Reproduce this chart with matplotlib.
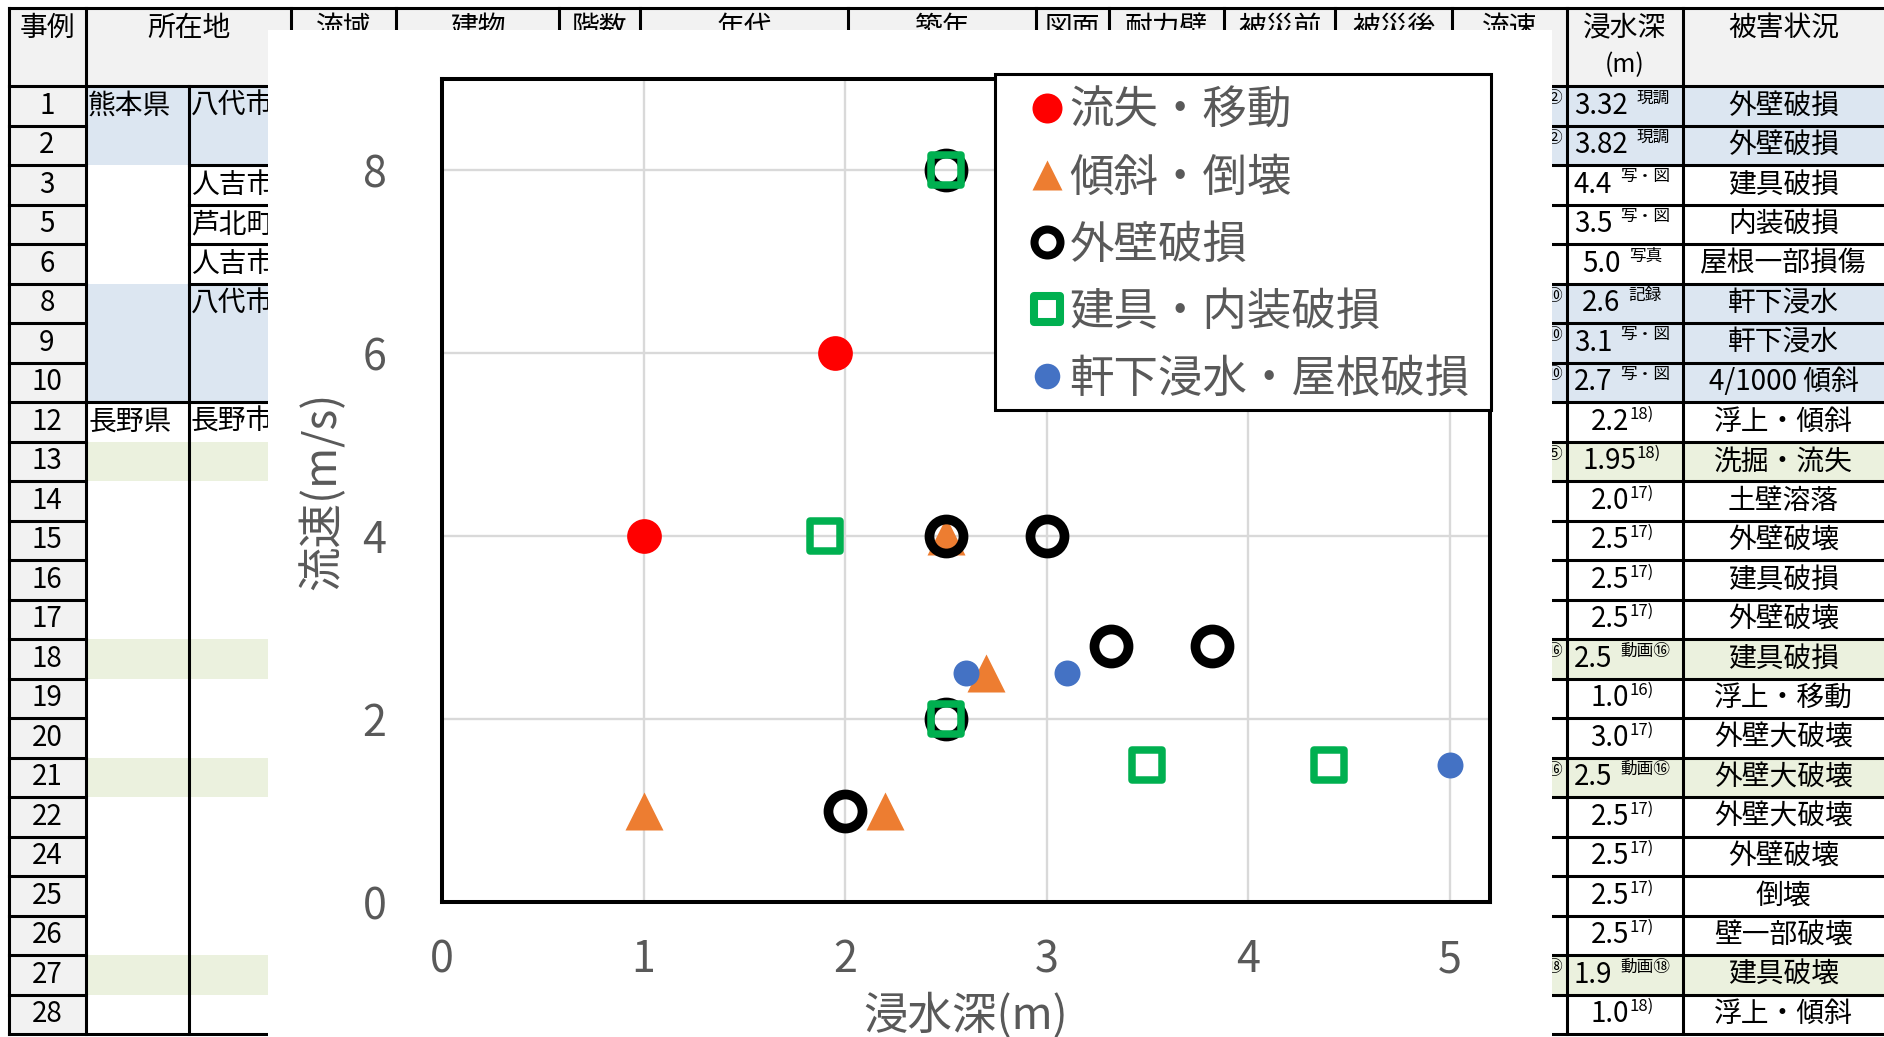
import matplotlib
matplotlib.use('Agg')
import matplotlib.pyplot as plt
from matplotlib.lines import Line2D
from matplotlib.markers import MarkerStyle
from matplotlib.patches import Rectangle

plt.rcParams['font.family'] = ['Noto Sans CJK JP', 'DejaVu Sans']

# ---- scatter: 浸水深 (m) vs 流速 (m/s), one series per damage type
loss_x = [1.0, 1.95]
loss_y = [4, 6]
tilt_x = [2.5, 2.7, 1.0, 2.2]
tilt_y = [4, 2.5, 1.0, 1.0]
wall_x = [2.5, 2.5, 3.0, 3.32, 3.82, 2.5, 2.0]
wall_y = [8, 4, 4, 2.8, 2.8, 2, 1]
fitting_x = [2.5, 1.9, 2.5, 3.5, 4.4]
fitting_y = [8, 4, 2, 1.5, 1.5]
eave_x = [2.6, 3.1, 5.0]
eave_y = [2.5, 2.5, 1.5]
series_labels = ['流失・移動', '傾斜・倒壊', '外壁破損', '建具・内装破損', '軒下浸水・屋根破損']

# ---- case table behind the chart
header = ['事例', '所在地', '流域', '建物', '階数', '年代', '築年', '図面',
          '耐力壁', '被災前', '被災後', '流速', '浸水深', '被害状況']
case_no = ['1', '2', '3', '5', '6', '8', '9', '10', '12', '13', '14', '15',
           '16', '17', '18', '19', '20', '21', '22', '24', '25', '26', '27', '28']
pref = ['熊本県', '', '', '', '', '', '', '', '長野県', '', '', '', '', '', '', '',
        '', '', '', '', '', '', '', '']
city = ['八代市', '', '人吉市', '芦北町', '人吉市', '八代市', '', '', '長野市', '', '', '',
        '', '', '', '', '', '', '', '', '', '', '', '']
speed_src = ['②', '②', '', '', '', '⑩', '⑩', '⑩', '', '⑤', '', '', '', '', '⑯', '',
             '', '⑯', '', '', '', '', '⑱', '']
depth = ['3.32', '3.82', '4.4', '3.5', '5.0', '2.6', '3.1', '2.7', '2.2', '1.95', '2.0',
         '2.5', '2.5', '2.5', '2.5', '1.0', '3.0', '2.5', '2.5', '2.5', '2.5', '2.5',
         '1.9', '1.0']
depth_src = ['現調', '現調', '写・図', '写・図', '写真', '記録', '写・図', '写・図', '18)',
             '18)', '17)', '17)', '17)', '17)', '動画⑯', '16)', '17)', '動画⑯', '17)',
             '17)', '17)', '17)', '動画⑱', '18)']
damage = ['外壁破損', '外壁破損', '建具破損', '内装破損', '屋根一部損傷', '軒下浸水', '軒下浸水',
          '4/1000 傾斜', '浮上・傾斜', '洗掘・流失', '土壁溶落', '外壁破壊', '建具破損',
          '外壁破壊', '建具破損', '浮上・移動', '外壁大破壊', '外壁大破壊', '外壁大破壊',
          '外壁破壊', '倒壊', '壁一部破壊', '建具破壊', '浮上・傾斜']
region = ['kumamoto', 'kumamoto', '', '', '', 'kumamoto', 'kumamoto', 'kumamoto', '',
          'nagano', '', '', '', '', 'nagano', '', '', 'nagano', '', '', '', '', 'nagano', '']

W, H = 1884, 1037
fig = plt.figure(figsize=(W / 100, H / 100), dpi=100)

# background sheet, drawn in pixel units
bg = fig.add_axes([0, 0, 1, 1])
bg.set_xlim(0, W)
bg.set_ylim(H, 0)
bg.axis('off')

col_edges = [9, 86, 291, 396, 559, 640, 848, 1036, 1109, 1224, 1335, 1452, 1567, 1683, 1884]
split_x = 189           # 県 | 市
top, head_bot, row_h = 8, 86, 39.5
bottom = head_bot + row_h * len(case_no)
shade = {'kumamoto': '#dce6f1', 'nagano': '#ebf1de'}
lw_tab = 2.2

bg.add_patch(Rectangle((9, top), W - 9, head_bot - top, fc='#f2f2f2', ec='none', zorder=0))
bg.add_patch(Rectangle((9, head_bot), 77, bottom - head_bot, fc='#f2f2f2', ec='none', zorder=0))
for i, reg in enumerate(region):
    if reg:
        y0 = head_bot + i * row_h
        bg.add_patch(Rectangle((86, y0), 291 - 86, row_h, fc=shade[reg], ec='none', zorder=0))
        bg.add_patch(Rectangle((1452, y0), W - 1452, row_h, fc=shade[reg], ec='none', zorder=0))

for yy in (top, head_bot, bottom):
    bg.plot([9, W], [yy, yy], color='k', lw=lw_tab, zorder=2)
for xx in col_edges[:-1]:
    bg.plot([xx, xx], [top, bottom], color='k', lw=lw_tab, zorder=2)
bg.plot([split_x, split_x], [head_bot, bottom], color='k', lw=lw_tab, zorder=2)
for i in range(1, len(case_no)):
    yy = head_bot + i * row_h
    bg.plot([9, 86], [yy, yy], color='k', lw=lw_tab, zorder=2)
    bg.plot([1452, W], [yy, yy], color='k', lw=lw_tab, zorder=2)
    if pref[i]:
        bg.plot([86, split_x], [yy, yy], color='k', lw=lw_tab, zorder=2)
    if city[i]:
        bg.plot([split_x, 291], [yy, yy], color='k', lw=lw_tab, zorder=2)

for name, x0, x1 in zip(header, col_edges[:-1], col_edges[1:]):
    bg.text((x0 + x1) / 2, 13, name, ha='center', va='top', fontsize=20, zorder=3)
bg.text(1625, 52, '(m)', ha='center', va='top', fontsize=18, zorder=3)

depth_pairs = []
for i in range(len(case_no)):
    yc = head_bot + (i + 0.5) * row_h
    yt = head_bot + i * row_h
    bg.text(47, yc, case_no[i], ha='center', va='center', fontsize=20, zorder=3)
    if pref[i]:
        bg.text(88, yc, pref[i], ha='left', va='center', fontsize=20, zorder=3)
    if city[i]:
        bg.text(191, yc, city[i], ha='left', va='center', fontsize=20, zorder=3)
    if speed_src[i]:
        bg.text(1562, yt + 4, speed_src[i], ha='right', va='top', fontsize=12, zorder=3)
    bg.text(1783.5, yc, damage[i], ha='center', va='center', fontsize=20, zorder=3)
    t = bg.text(1572, yc, depth[i], ha='left', va='center', fontsize=20, zorder=3)
    gap = 0 if depth_src[i].endswith(')') else 6
    s = bg.annotate(depth_src[i], xy=(1, 1), xycoords=t, xytext=(gap, 1),
                    textcoords='offset points', ha='left', va='top', fontsize=12, zorder=3)
    depth_pairs.append((t, s))

# chart area
bg.add_patch(Rectangle((268, 30), 1552 - 268, H - 30, fc='white', ec='none', zorder=10))

ax_l, ax_r, ax_t, ax_b = 442, 1490, 79, 902
ax = fig.add_axes([ax_l / W, 1 - ax_b / H, (ax_r - ax_l) / W, (ax_b - ax_t) / H])
ax.set_xlim(0, 5.2)
ax.set_ylim(0, 9)
ax.set_xticks(range(6))
ax.set_yticks(range(0, 9, 2))
ax.grid(color='#d9d9d9', lw=1.7)
ax.set_axisbelow(True)
for sp in ax.spines.values():
    sp.set_linewidth(2.9)
    sp.set_color('black')
ax.tick_params(length=0, labelsize=31, labelcolor='#595959')
ax.tick_params(axis='x', pad=26)
ax.tick_params(axis='y', pad=40)

sq = MarkerStyle('s', joinstyle='round')
ax.plot(loss_x, loss_y, ls='none', marker='o', ms=25, mfc='#ff0000', mec='none')
ax.plot(tilt_x, tilt_y, ls='none', marker='^', ms=27, mfc='#ed7d31', mec='none')
ax.plot(wall_x, wall_y, ls='none', marker='o', ms=24.5, mfc='none', mec='black', mew=7)
ax.plot(fitting_x, fitting_y, ls='none', marker=sq, ms=21, mfc='none', mec='#00b050', mew=5.4)
ax.plot(eave_x, eave_y, ls='none', marker='o', ms=18.7, mfc='#4472c4', mec='none')

ax.set_xlabel('浸水深(m)', fontsize=32, color='#595959')
ax.xaxis.set_label_coords(0.5, -(993 - ax_b) / (ax_b - ax_t))
ax.set_ylabel('流速(m/s)', fontsize=32, color='#595959')
ax.yaxis.set_label_coords(-(ax_l - 346) / (ax_r - ax_l), 0.5)

handles = [
    Line2D([], [], ls='none', marker='o', ms=21.6, mfc='#ff0000', mec='none'),
    Line2D([], [], ls='none', marker='^', ms=21.6, mfc='#ed7d31', mec='none'),
    Line2D([], [], ls='none', marker='o', ms=18.7, mfc='none', mec='black', mew=5.8),
    Line2D([], [], ls='none', marker=sq, ms=18.7, mfc='none', mec='#00b050', mew=5.8),
    Line2D([], [], ls='none', marker='o', ms=18.4, mfc='#4472c4', mec='none'),
]
ax.legend(handles, series_labels, loc='upper left', bbox_to_anchor=(1025 / W, 1 - 88 / H),
          bbox_transform=fig.transFigure, frameon=False, fontsize=32, labelcolor='#595959',
          borderpad=0, borderaxespad=0, handlelength=1.0, handletextpad=0.0,
          labelspacing=0.47)
ax.add_patch(Rectangle((995 / W, 1 - 410 / H), 496 / W, 336 / H, transform=fig.transFigure,
                       fc='white', ec='black', lw=2.2, zorder=4.5, clip_on=False))

# centre each depth value together with its source note
fig.canvas.draw()
r = fig.canvas.get_renderer()
for t, s in depth_pairs:
    b1 = t.get_window_extent(r)
    b2 = s.get_window_extent(r)
    mid = (b1.x0 + b2.x1) / 2
    x, y = t.get_position()
    t.set_position((x + 1622 - mid, y))

fig.savefig('out.png', dpi=100)
